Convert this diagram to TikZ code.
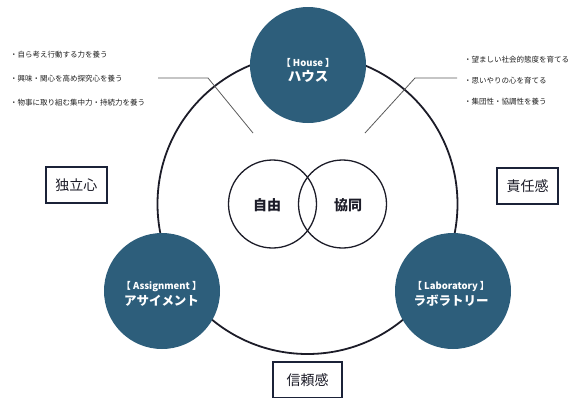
\documentclass[tikz,border=0pt]{standalone}
\usepackage{fontspec}
\setmainfont{Noto Sans CJK JP}
\definecolor{hubblue}{HTML}{2D5E7B}
\definecolor{ringc}{HTML}{1C1C28}
\definecolor{boxc}{HTML}{1B2238}
\definecolor{leadc}{HTML}{5A5A5A}
\definecolor{bullc}{HTML}{1E1E1E}
\begin{document}
\begin{tikzpicture}[x=1pt,y=-1pt,
  hub/.style={circle,fill=hubblue,minimum size=116pt,inner sep=0pt},
  hubtext/.style={text=white,align=center,inner sep=0pt,font=\bfseries},
  ring/.style={circle,draw=ringc,line width=1.8pt,minimum size=300pt,inner sep=0pt},
  venn/.style={circle,draw=ringc,line width=1.3pt,minimum size=88pt,inner sep=0pt},
  venntext/.style={font=\fontsize{14}{16}\selectfont\bfseries,text=ringc,inner sep=0pt},
  valbox/.style={draw=boxc,line width=2.4pt,fill=white,minimum width=61pt,minimum height=36pt,inner sep=0pt,font=\fontsize{14}{16}\selectfont,text=ringc},
  bullet/.style={anchor=west,inner sep=0pt,font=\fontsize{7.5}{9}\selectfont,text=bullc},
  lead/.style={draw=leadc,line width=0.8pt}]
\useasboundingbox (0,0) rectangle (582,397);
% outer ring
\node[ring] (big) at (307.5,204) {};
% venn
\node[venn] (vl) at (272.5,204) {};
\node[venn] (vr) at (342.5,204) {};
\node[venntext] (jiyu) at (267,205) {自由};
\node[venntext] (kyodo) at (348,205) {協同};
% hubs
\node[hub] (house) at (308,65) {};
\node[hub] (assign) at (162,291) {};
\node[hub] (lab) at (453,291) {};
\node[hubtext] (houset) at (308,70) {{\fontsize{9.5}{11}\selectfont【 House 】}\\[2pt]{\fontsize{13.5}{15}\selectfont ハウス}};
\node[hubtext] (assignt) at (161.5,294) {{\fontsize{9.5}{11}\selectfont【 Assignment 】}\\[2pt]{\fontsize{12.5}{14}\selectfont アサイメント}};
\node[hubtext] (labt) at (451,294) {{\fontsize{9.5}{11}\selectfont【 Laboratory 】}\\[2pt]{\fontsize{12.5}{14}\selectfont ラボラトリー}};
% value boxes
\node[valbox] (dokuritsu) at (76.5,185) {独立心};
\node[valbox] (sekinin) at (527.5,186) {責任感};
\node[valbox,minimum width=69pt] (shinrai) at (307.5,380) {信頼感};
% bullets left
\node[bullet] (l1) at (10,55) {・自ら考え行動する力を養う};
\node[bullet] (l2) at (10,79) {・興味・関心を高め探究心を養う};
\node[bullet] (l3) at (10,103) {・物事に取り組む集中力・持続力を養う};
% bullets right
\node[bullet] (r1) at (464,60) {・望ましい社会的態度を育てる};
\node[bullet] (r2) at (464,81) {・思いやりの心を育てる};
\node[bullet] (r3) at (464,102) {・集団性・協調性を養う};
% leader lines
\coordinate (lA) at (158,78);
\coordinate (lB) at (208,78);
\coordinate (lC) at (253,133);
\coordinate (rA) at (457,78);
\coordinate (rB) at (415,78);
\coordinate (rC) at (365,133);
\draw[lead] (lA) -- (lB) -- (lC);
\draw[lead] (rA) -- (rB) -- (rC);
\end{tikzpicture}
\end{document}
